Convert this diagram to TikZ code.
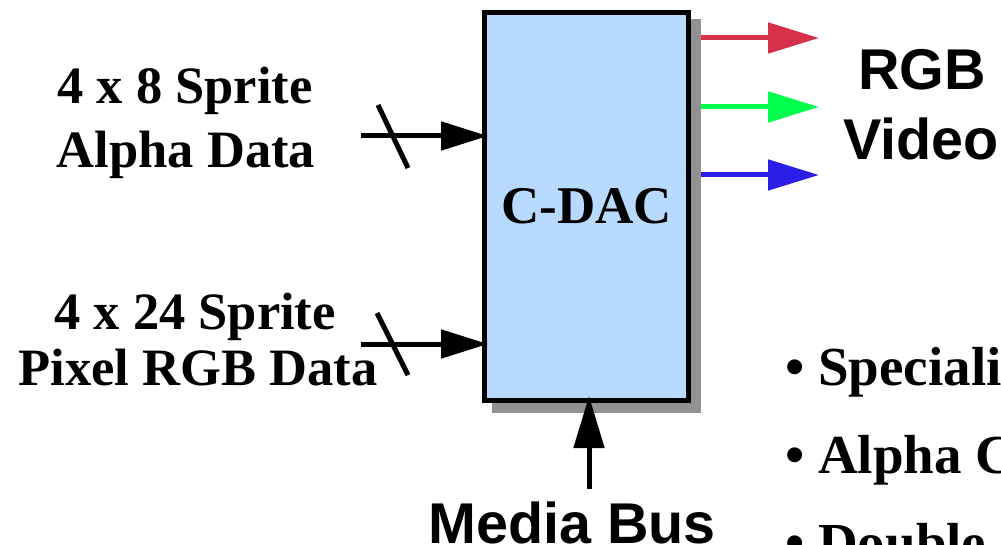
\documentclass[tikz,border=0pt]{standalone}
\usepackage{fontspec}
\setmainfont{Liberation Serif}
\newfontfamily\sansfont{Liberation Sans}
\usepackage{tikz}
\usetikzlibrary{arrows.meta, backgrounds, calc}
\definecolor{dacblue}{HTML}{B8DAFF}
\definecolor{shadowgray}{HTML}{919191}
\definecolor{redout}{HTML}{D7304A}
\definecolor{greenout}{HTML}{00FF4C}
\definecolor{blueout}{HTML}{2B1EE6}
\tikzset{
  serifbig/.style={font=\fontsize{52.5}{63}\selectfont\bfseries, inner sep=0pt, anchor=base},
  sansbig/.style={font=\sansfont\fontsize{57.5}{69}\selectfont\bfseries, inner sep=0pt, anchor=base},
  busarrow/.style={line width=5pt, -{Triangle[length=47pt,width=28pt]}},
  rgbarrow/.style={line width=5pt, -{Triangle[length=51pt,width=30pt]}},
  slashline/.style={line width=5pt},
}

\begin{document}
\begin{tikzpicture}[x=1pt,y=-1pt]
\useasboundingbox (0,0) rectangle (1001,545);
\clip (0,0) rectangle (1001,545);
% Drawing the C-DAC block
\node[draw=black, line width=5pt, fill=dacblue, minimum width=204pt, minimum height=388pt,
      font=\fontsize{53}{64}\selectfont\bfseries] (cdac) at (586.5,206.5) {\raisebox{-4pt}{C-DAC}};
\begin{scope}[on background layer]
\fill[shadowgray] ([xshift=9.5pt,yshift=-9.5pt]cdac.south west) rectangle ([xshift=9.5pt,yshift=-9.5pt]cdac.north east);
\end{scope}
% Drawing input labels
\node[serifbig] (alphaA) at (185,104) {4 x 8 Sprite};
\node[serifbig] (alphaB) at (186,168) {Alpha Data};
\node[serifbig] (pixelA) at (195,330) {4 x 24 Sprite};
\node[serifbig] (pixelB) at (198,385) {Pixel RGB Data};
% Drawing input buses
\coordinate (alphain) at (361,136);
\coordinate (alphaend) at (488,136);
\coordinate (pixelin) at (361,344);
\coordinate (pixelend) at (488,344);
\draw[busarrow] (alphain) -- (alphaend);
\draw[slashline] (378,105) -- (408,168);
\draw[busarrow] (pixelin) -- (pixelend);
\draw[slashline] (377,313) -- (408,375);
% Drawing RGB outputs
\coordinate (redstart) at (701,38);
\coordinate (redend) at (819,38);
\coordinate (greenstart) at (701,107);
\coordinate (greenend) at (819,107);
\coordinate (bluestart) at (701,175);
\coordinate (blueend) at (819,175);
\draw[rgbarrow, color=redout] (redstart) -- (redend);
\draw[rgbarrow, color=greenout] (greenstart) -- (greenend);
\draw[rgbarrow, color=blueout] (bluestart) -- (blueend);
\node[sansbig] (rgblabel) at (922,90) {RGB};
\node[sansbig] (videolabel) at (921,160) {Video};
% Drawing media bus
\coordinate (mbusin) at (589,489);
\coordinate (mbusend) at (589,396);
\draw[line width=5pt, -{Triangle[length=52pt,width=30pt]}] (mbusin) -- (mbusend);
\node[sansbig] (mbuslabel) at (572,543) {Media Bus};
% Drawing feature list
\node[serifbig, anchor=base west, font=\fontsize{55}{66}\selectfont\bfseries] (featA) at (785,385) {• Speciali};
\node[serifbig, anchor=base west, font=\fontsize{55}{66}\selectfont\bfseries] (featB) at (785,473) {• Alpha C};
\node[serifbig, anchor=base west, font=\fontsize{55}{66}\selectfont\bfseries] (featC) at (785,561) {• Double};
\end{tikzpicture}
\end{document}
